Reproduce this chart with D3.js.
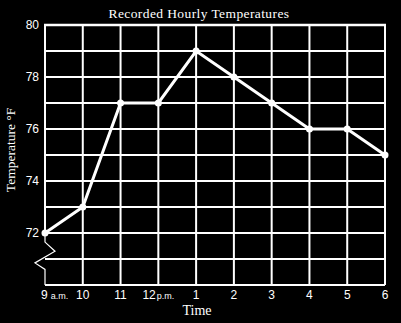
<!DOCTYPE html>
<html>
<head>
<meta charset="utf-8">
<script src="https://cdn.jsdelivr.net/npm/d3@7"></script>
<style>
  html, body { margin: 0; padding: 0; background: #000; }
</style>
</head>
<body>
<div id="chart"></div>
<script>
// data
const hours = ["9", "10", "11", "12", "1", "2", "3", "4", "5", "6"];
const hourLabels = ["9", "10", "11", "12", "1", "2", "3", "4", "5", "6"];
const hourSuffix = ["a.m.", "", "", "p.m.", "", "", "", "", "", ""];
const temps = [72, 73, 77, 77, 79, 78, 77, 76, 76, 75];
const yTicks = [72, 74, 76, 78, 80];
const gridY = [70, 71, 72, 73, 74, 75, 76, 77, 78, 79, 80];

const width = 401;
const height = 323;
const margin = { top: 25, right: 16, bottom: 38, left: 45 };

const svg = d3.select("#chart").append("svg")
    .attr("width", width)
    .attr("height", height)
    .style("background", "#000");

const x = d3.scalePoint()
    .domain(hours)
    .range([margin.left, width - margin.right]);

const y = d3.scaleLinear()
    .domain([70, 80])
    .range([height - margin.bottom, margin.top]);

// grid
const grid = svg.append("g").attr("stroke", "#fff").attr("stroke-width", 2);

grid.selectAll("line.h")
    .data(gridY)
    .join("line")
    .attr("class", "h")
    .attr("x1", margin.left)
    .attr("x2", width - margin.right)
    .attr("y1", d => y(d))
    .attr("y2", d => y(d));

// vertical lines (not the left one, which is the broken axis)
grid.selectAll("line.v")
    .data(hours.slice(1))
    .join("line")
    .attr("class", "v")
    .attr("x1", d => x(d))
    .attr("x2", d => x(d))
    .attr("y1", y(80))
    .attr("y2", y(70));

// top border a bit heavier
svg.append("line")
    .attr("stroke", "#fff")
    .attr("stroke-width", 2.5)
    .attr("x1", margin.left - 1).attr("x2", width - margin.right + 1)
    .attr("y1", y(80)).attr("y2", y(80));

// left axis, solid down to 72
svg.append("line")
    .attr("stroke", "#fff")
    .attr("stroke-width", 2)
    .attr("x1", x(hours[0])).attr("x2", x(hours[0]))
    .attr("y1", y(80)).attr("y2", y(72));

// axis break zigzag below 72
const x0 = x(hours[0]);
const zig = [
    [0, 72], [0, 71.65], [10, 71.3], [-10, 70.85], [0, 70.6], [0, 70]
];
svg.append("path")
    .attr("fill", "none")
    .attr("stroke", "#fff")
    .attr("stroke-width", 1.2)
    .attr("d", d3.line().x(d => x0 + d[0]).y(d => y(d[1]))(zig));

// temperature line
svg.append("path")
    .datum(temps)
    .attr("fill", "none")
    .attr("stroke", "#fff")
    .attr("stroke-width", 3)
    .attr("d", d3.line().x((d, i) => x(hours[i])).y(d => y(d)));

svg.append("g")
    .selectAll("circle")
    .data(temps)
    .join("circle")
    .attr("cx", (d, i) => x(hours[i]))
    .attr("cy", d => y(d))
    .attr("r", 3.5)
    .attr("fill", "#fff");

// y tick labels
svg.append("g")
    .selectAll("text")
    .data(yTicks)
    .join("text")
    .attr("x", margin.left - 6)
    .attr("y", d => y(d))
    .attr("dy", "0.35em")
    .attr("text-anchor", "end")
    .attr("fill", "#fff")
    .attr("font-family", "Liberation Sans, Arial, sans-serif")
    .attr("font-size", 12)
    .text(d => d);

// x tick labels
const xt = svg.append("g")
    .selectAll("text")
    .data(hours)
    .join("text")
    .attr("x", d => x(d))
    .attr("y", height - margin.bottom + 14)
    .attr("text-anchor", (d, i) => i === 0 ? "start" : "middle")
    .attr("dx", (d, i) => i === 0 ? -4 : 0)
    .attr("fill", "#fff")
    .attr("font-family", "Liberation Sans, Arial, sans-serif")
    .attr("font-size", 12);

xt.append("tspan").text((d, i) => hourLabels[i]);
xt.append("tspan")
    .attr("font-size", 9)
    .attr("dx", (d, i) => i === 0 ? 3 : 1)
    .text((d, i) => hourSuffix[i]);

// title and axis labels
svg.append("text")
    .attr("x", 199)
    .attr("y", 18)
    .attr("text-anchor", "middle")
    .attr("fill", "#fff")
    .attr("font-family", "Liberation Serif, Times New Roman, serif")
    .attr("font-size", 13.5)
    .attr("letter-spacing", 0.4)
    .text("Recorded Hourly Temperatures");

svg.append("text")
    .attr("x", 197)
    .attr("y", 315)
    .attr("text-anchor", "middle")
    .attr("fill", "#fff")
    .attr("font-family", "Liberation Serif, Times New Roman, serif")
    .attr("font-size", 14)
    .text("Time");

svg.append("text")
    .attr("transform", "translate(15,150) rotate(-90)")
    .attr("text-anchor", "middle")
    .attr("fill", "#fff")
    .attr("font-family", "Liberation Serif, Times New Roman, serif")
    .attr("font-size", 13.5)
    .text("Temperature °F");
</script>
</body>
</html>
